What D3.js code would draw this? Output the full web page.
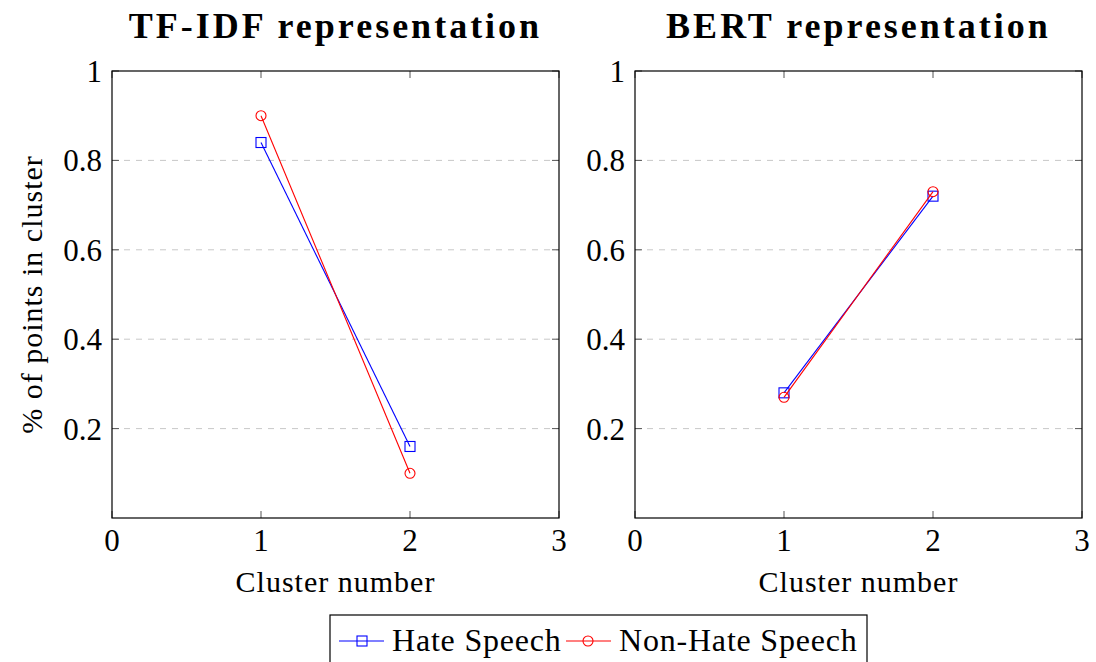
<html>
  <head>
    <meta charset="UTF-8">
    <title>Cluster distribution</title>
    <style type="text/css">
      body { margin: 0; background-color: #fff; }
      svg { font-family: "Liberation Serif", serif; }
      .grid line { stroke: #c8c8c8; stroke-dasharray: 6,6; stroke-width: 1px; }
      .tick-mark { stroke: #555; stroke-width: 1px; }
      .ticklabel { font-size: 31px; fill: #000; }
      .axislabel { font-size: 30px; fill: #000; letter-spacing: 1px; }
      .legendlabel { font-size: 32px; fill: #000; letter-spacing: 0.8px; }
      .title { font-size: 36px; font-weight: bold; letter-spacing: 3px; }
    </style>
    <script src="https://cdn.jsdelivr.net/npm/d3@7"></script>
  </head>
  <body>
    <div id="chart"></div>
    <script type="text/javascript">
      // data
      var clusters = [1, 2];
      var panelTitles = ["TF-IDF representation", "BERT representation"];
      var seriesNames = ["Hate Speech", "Non-Hate Speech"];
      var seriesColors = ["#0000ff", "#ff0000"];
      var tfidfHate = [0.84, 0.16];
      var tfidfNonHate = [0.90, 0.10];
      var bertHate = [0.28, 0.72];
      var bertNonHate = [0.27, 0.73];
      var xTicks = [0, 1, 2, 3];
      var yTicks = [0.2, 0.4, 0.6, 0.8, 1];

      var width = 1096, height = 662;
      var plotTop = 71, plotBottom = 518, boxW = 447;
      var panelLefts = [112, 635];
      var panelData = [[tfidfHate, tfidfNonHate], [bertHate, bertNonHate]];

      var svg = d3.select("#chart").append("svg")
        .attr("width", width).attr("height", height);

      var yScale = d3.scaleLinear().domain([0, 1]).range([plotBottom, plotTop]);

      panelLefts.forEach(function(left, p) {
        var xScale = d3.scaleLinear().domain([0, 3]).range([left, left + boxW]);
        var g = svg.append("g");

        // grid
        g.append("g").attr("class", "grid").selectAll("line")
          .data(yTicks.filter(function(d) { return d < 1; }))
          .enter().append("line")
          .attr("x1", left).attr("x2", left + boxW)
          .attr("y1", function(d) { return yScale(d); })
          .attr("y2", function(d) { return yScale(d); });

        // inward ticks on all four sides
        yTicks.forEach(function(t) {
          g.append("line").attr("class", "tick-mark")
            .attr("x1", left).attr("x2", left + 7)
            .attr("y1", yScale(t)).attr("y2", yScale(t));
          g.append("line").attr("class", "tick-mark")
            .attr("x1", left + boxW - 7).attr("x2", left + boxW)
            .attr("y1", yScale(t)).attr("y2", yScale(t));
          g.append("text").attr("class", "ticklabel")
            .attr("x", left - 10).attr("y", yScale(t) + 11)
            .attr("text-anchor", "end").text(t);
        });
        xTicks.forEach(function(t) {
          g.append("line").attr("class", "tick-mark")
            .attr("x1", xScale(t)).attr("x2", xScale(t))
            .attr("y1", plotBottom).attr("y2", plotBottom - 7);
          g.append("line").attr("class", "tick-mark")
            .attr("x1", xScale(t)).attr("x2", xScale(t))
            .attr("y1", plotTop).attr("y2", plotTop + 7);
          g.append("text").attr("class", "ticklabel")
            .attr("x", xScale(t)).attr("y", 551)
            .attr("text-anchor", "middle").text(t);
        });

        // frame
        g.append("rect").attr("x", left).attr("y", plotTop)
          .attr("width", boxW).attr("height", plotBottom - plotTop)
          .attr("fill", "none").attr("stroke", "#000").attr("stroke-width", 1.2);

        // series
        var line = d3.line()
          .x(function(d, i) { return xScale(clusters[i]); })
          .y(function(d) { return yScale(d); });

        panelData[p].forEach(function(vals, s) {
          g.append("path").datum(vals)
            .attr("d", line).attr("fill", "none")
            .attr("stroke", seriesColors[s]).attr("stroke-width", 1.1);
          if (s === 0) {
            g.selectAll(".sq" + p).data(vals).enter().append("rect")
              .attr("x", function(d, i) { return xScale(clusters[i]) - 5; })
              .attr("y", function(d) { return yScale(d) - 5; })
              .attr("width", 10).attr("height", 10)
              .attr("fill", "none").attr("stroke", seriesColors[s]).attr("stroke-width", 1.1);
          } else {
            g.selectAll(".ci" + p).data(vals).enter().append("circle")
              .attr("cx", function(d, i) { return xScale(clusters[i]); })
              .attr("cy", function(d) { return yScale(d); })
              .attr("r", 5)
              .attr("fill", "none").attr("stroke", seriesColors[s]).attr("stroke-width", 1.1);
          }
        });

        // titles
        g.append("text").attr("class", "title")
          .attr("x", left + boxW / 2).attr("y", 38)
          .attr("text-anchor", "middle").text(panelTitles[p]);
        g.append("text").attr("class", "axislabel")
          .attr("x", left + boxW / 2).attr("y", 592)
          .attr("text-anchor", "middle").text("Cluster number");
      });

      // y axis label
      svg.append("text").attr("class", "axislabel")
        .attr("transform", "translate(42," + ((plotTop + plotBottom) / 2) + ") rotate(-90)")
        .attr("text-anchor", "middle").text("% of points in cluster");

      // legend
      var legend = svg.append("g");
      legend.append("rect").attr("x", 330).attr("y", 615)
        .attr("width", 537).attr("height", 52)
        .attr("fill", "#fff").attr("stroke", "#000").attr("stroke-width", 1.2);
      var legendX = [339, 566];
      seriesNames.forEach(function(name, s) {
        var x0 = legendX[s];
        legend.append("line").attr("x1", x0).attr("x2", x0 + 45)
          .attr("y1", 641).attr("y2", 641)
          .attr("stroke", seriesColors[s]).attr("stroke-width", 1.1);
        if (s === 0) {
          legend.append("rect").attr("x", x0 + 18).attr("y", 636)
            .attr("width", 10).attr("height", 10)
            .attr("fill", "none").attr("stroke", seriesColors[s]).attr("stroke-width", 1.1);
        } else {
          legend.append("circle").attr("cx", x0 + 22).attr("cy", 641).attr("r", 5)
            .attr("fill", "none").attr("stroke", seriesColors[s]).attr("stroke-width", 1.1);
        }
        legend.append("text").attr("class", "legendlabel")
          .attr("x", x0 + 53).attr("y", 651).text(name);
      });
    </script>
  </body>
</html>
